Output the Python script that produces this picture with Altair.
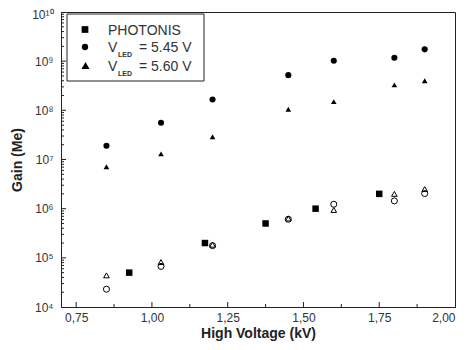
import altair as alt
import pandas as pd

# ---- data ----
hv_photonis = [0.925, 1.175, 1.375, 1.54, 1.75]
gain_photonis = [5.0e4, 2.0e5, 5.0e5, 1.0e6, 2.0e6]

hv_led = [0.85, 1.03, 1.20, 1.45, 1.60, 1.80, 1.90]
gain_545 = [1.9e7, 5.6e7, 1.66e8, 5.2e8, 1.02e9, 1.17e9, 1.74e9]
gain_560 = [7.1e6, 1.3e7, 2.9e7, 1.05e8, 1.5e8, 3.3e8, 4.0e8]
gain_545_open = [2.3e4, 6.7e4, 1.77e5, 6.1e5, 1.23e6, 1.44e6, 2.03e6]
gain_560_open = [4.4e4, 8.2e4, 1.85e5, 6.3e5, 9.4e5, 2.0e6, 2.5e6]

x_label_values = [0.75, 1.00, 1.25, 1.50, 1.75, 2.00]
x_major_ticks = [0.75, 1.00, 1.25, 1.50, 1.75]
x_minor_ticks = [0.875, 1.125, 1.375, 1.625, 1.875]
y_label_values = [1e4, 1e5, 1e6, 1e7, 1e8, 1e9, 1e10]
y_major_ticks = [1e5, 1e6, 1e7, 1e8, 1e9]
y_minor_ticks = [m * 10.0 ** k for k in range(4, 10) for m in range(2, 10)]

W, H = 394, 295
FONT = "Liberation Sans"
INK = "#222222"
TXT = "#333333"

xscale = alt.Scale(domain=[0.70, 2.00], nice=False, zero=False)
yscale = alt.Scale(type="log", domain=[1e4, 1e10], nice=False)

filled_df = pd.concat([
    pd.DataFrame({"hv": hv_photonis, "gain": gain_photonis, "s": "photonis"}),
    pd.DataFrame({"hv": hv_led, "gain": gain_545, "s": "led545"}),
    pd.DataFrame({"hv": hv_led, "gain": gain_560, "s": "led560"}),
])
open_df = pd.concat([
    pd.DataFrame({"hv": hv_led, "gain": gain_545_open, "s": "led545"}),
    pd.DataFrame({"hv": hv_led, "gain": gain_560_open, "s": "led560"}),
])

sdom = ["photonis", "led545", "led560"]
shape_enc = alt.Shape("s:N", scale=alt.Scale(domain=sdom, range=["square", "circle", "triangle-up"]), legend=None)
size_enc = alt.Size("s:N", scale=alt.Scale(domain=sdom, range=[42, 32, 64]), legend=None)
osize_enc = alt.Size("s:N", scale=alt.Scale(domain=sdom, range=[40, 28, 60]), legend=None)

x_axis = alt.Axis(
    values=x_label_values,
    labelExpr="replace(format(datum.value, '.2f'), '.', ',')",
    ticks=False, grid=False, title="High Voltage (kV)",
    labelPadding=5, titlePadding=3,
)
y_axis = alt.Axis(
    values=y_label_values,
    labelExpr="'10' + ['\u2074','\u2075','\u2076','\u2077','\u2078','\u2079','\u00b9\u2070'][round(log(datum.value)/LN10) - 4]",
    labelOffset={"condition": {"test": "datum.value >= 1e10", "value": 2}, "value": 0},
    ticks=False, grid=False, title="Gain (Me)",
    labelPadding=8, titlePadding=7,
)

filled = alt.Chart(filled_df).mark_point(filled=True, color="black", opacity=1).encode(
    x=alt.X("hv:Q", scale=xscale, axis=x_axis),
    y=alt.Y("gain:Q", scale=yscale, axis=y_axis),
    shape=shape_enc, size=size_enc,
)
opened = alt.Chart(open_df).mark_point(filled=False, color="black", strokeWidth=1, opacity=1).encode(
    x=alt.X("hv:Q", scale=xscale, axis=x_axis),
    y=alt.Y("gain:Q", scale=yscale, axis=y_axis),
    shape=shape_enc, size=osize_enc,
)

def xticks(vals, length):
    return alt.Chart(pd.DataFrame({"hv": vals})).mark_rule(color=INK, strokeWidth=1).encode(
        x=alt.X("hv:Q", scale=xscale, axis=x_axis),
        y=alt.value(H), y2=alt.value(H - length),
    )

def yticks(vals, length):
    return alt.Chart(pd.DataFrame({"gain": vals})).mark_rule(color=INK, strokeWidth=1).encode(
        y=alt.Y("gain:Q", scale=yscale, axis=y_axis),
        x=alt.value(0), x2=alt.value(length),
    )

one = pd.DataFrame({"a": [0]})
legend_box = alt.Chart(one).mark_rect(fill="white", stroke=INK, strokeWidth=1).encode(
    x=alt.value(6), x2=alt.value(143), y=alt.value(2), y2=alt.value(69)
)

def leg_sym(shape, size, px, py):
    return alt.Chart(one).mark_point(filled=True, color="black", opacity=1, shape=shape, size=size).encode(
        x=alt.value(px), y=alt.value(py)
    )

def leg_txt(txt, px, py, size=14, weight="normal"):
    return alt.Chart(one).mark_text(
        align="left", baseline="alphabetic", font=FONT, fontSize=size, fontWeight=weight, color=TXT
    ).encode(x=alt.value(px), y=alt.value(py), text=alt.value(txt))

legend = [
    legend_box,
    leg_sym("square", 45, 24, 17.5),
    leg_sym("circle", 40, 24, 35),
    leg_sym("triangle-up", 64, 24.5, 53.5),
    leg_txt("PHOTONIS", 47, 22.5),
    leg_txt("V", 47, 39.5),
    leg_txt("LED", 57, 45, size=7, weight="bold"),
    leg_txt("= 5.45 V", 78, 39.5),
    leg_txt("V", 47, 58.5),
    leg_txt("LED", 57, 64, size=7, weight="bold"),
    leg_txt("= 5.60 V", 78, 58.5),
]

chart = alt.layer(
    filled, opened,
    xticks(x_major_ticks, 5), xticks(x_minor_ticks, 3),
    yticks(y_major_ticks, 5), yticks(y_minor_ticks, 3),
    *legend,
).properties(
    width=W, height=H,
    autosize=alt.AutoSizeParams(type="none"),
    padding={"left": 53, "top": 4, "right": 3, "bottom": 35},
).configure_view(
    stroke=INK, strokeWidth=1
).configure_axis(
    domainColor=INK, domainWidth=1,
    labelFont=FONT, labelFontSize=12, labelColor=TXT,
    titleFont=FONT, titleFontSize=14, titleFontWeight="bold", titleColor=INK,
)

chart.save("out.html", embed_options={"renderer": "svg", "actions": False})
